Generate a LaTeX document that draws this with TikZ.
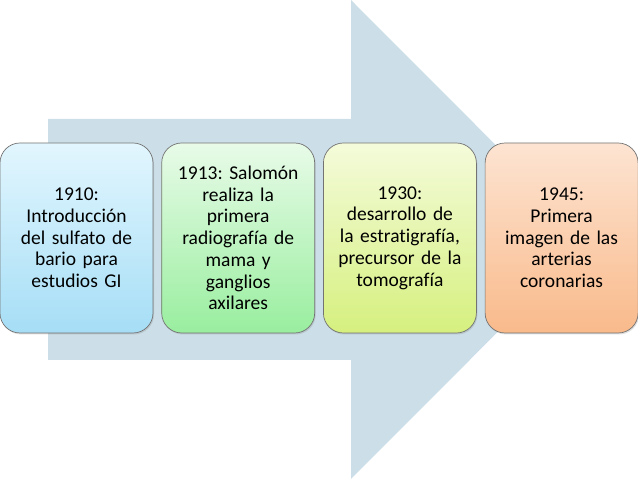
\documentclass[tikz,border=0pt]{standalone}
\usepackage{fontspec}
\setmainfont{Carlito}[Ligatures=NoCommon]
\usepackage{xcolor}
\usetikzlibrary{positioning,shadows}
\frenchspacing

\definecolor{arrowgray}{HTML}{CCDEE7}
\definecolor{bluetop}{HTML}{E2F6FE}
\definecolor{bluebot}{HTML}{A6DEF6}
\definecolor{greentop}{HTML}{E8FBE8}
\definecolor{greenbot}{HTML}{99EE9F}
\definecolor{yellowtop}{HTML}{F4FBDA}
\definecolor{yellowbot}{HTML}{D6F07F}
\definecolor{orangetop}{HTML}{FDE4D2}
\definecolor{orangebot}{HTML}{F9BA8B}

\begin{document}
\begin{tikzpicture}[
        x=1pt, y=1pt,
        box/.style={rectangle, rounded corners=20pt, draw=gray!90!black, line width=0.7pt,
            minimum width=153pt, minimum height=190pt, text width=150pt, align=center,
            font=\fontsize{19.5}{21.7}\selectfont, inner sep=0pt,
            drop shadow={opacity=0.25, shadow xshift=1pt, shadow yshift=-1.5pt}},
        year/.style={shading=axis, top color=#1top, bottom color=#1bot}
    ]
        \useasboundingbox (0,0) rectangle (638,479);

        % Big arrow behind the timeline
        \fill[arrowgray] (48,119) -- (48,360) -- (351,360) -- (351,479)
            -- (590,239.5) -- (351,0) -- (351,119) -- cycle;

        % 1910
        \node[box, year=blue] (y1910) at (76.5,241) {1910:\\Introducción\\del sulfato de\\bario para\\estudios GI};

        % 1913
        \node[box, year=green, right=8pt of y1910] (y1913) {1913: Salomón\\realiza la\\primera\\radiografía de\\mama y\\ganglios\\axilares};

        % 1930
        \node[box, year=yellow, right=8pt of y1913] (y1930) {1930:\\desarrollo de\\la estratigrafía,\\precursor de la\\tomografía};

        % 1945
        \node[box, year=orange, right=8pt of y1930] (y1945) {1945:\\Primera\\imagen de las\\arterias\\coronarias};
    \end{tikzpicture}
\end{document}
